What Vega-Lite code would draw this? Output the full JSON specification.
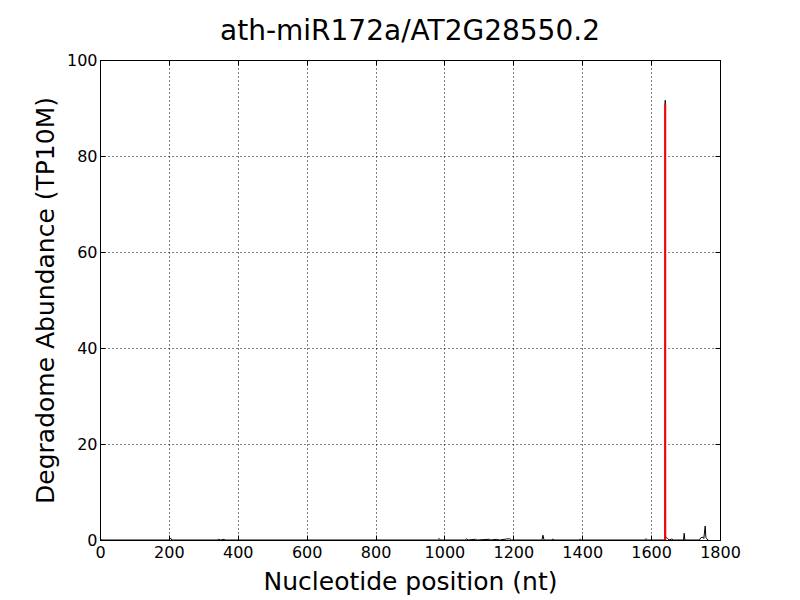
{
  "$schema": "https://vega.github.io/schema/vega-lite/v6.json",
  "width": 620,
  "height": 480,
  "autosize": {"type": "none"},
  "padding": {"left": 100, "top": 60, "right": 80, "bottom": 60},
  "background": "white",
  "title": {"text": "ath-miR172a/AT2G28550.2", "font": "DejaVu Sans", "fontSize": 28, "fontWeight": "normal", "color": "black", "offset": 6},
  "config": {
    "view": {"stroke": "black", "strokeWidth": 1},
    "axis": {
      "labelFont": "DejaVu Sans", "labelFontSize": 16, "labelColor": "black", "labelFlush": false,
      "titleFont": "DejaVu Sans", "titleFontSize": 25, "titleFontWeight": "normal", "titleColor": "black",
      "domainColor": "black", "tickColor": "black", "tickSize": -5, "labelPadding": 6,
      "grid": true, "gridColor": "black", "gridDash": [1, 3], "gridOpacity": 1, "gridWidth": 1
    }
  },
  "datasets": {
    "profile": [
      {"pos": 0, "val": 0.5}, {"pos": 4, "val": 0}, {"pos": 200, "val": 0}, {"pos": 205, "val": 0.4}, {"pos": 208, "val": 0},
      {"pos": 340, "val": 0}, {"pos": 345, "val": 0.15}, {"pos": 350, "val": 0}, {"pos": 360, "val": 0.15}, {"pos": 363, "val": 0},
      {"pos": 980, "val": 0}, {"pos": 985, "val": 0.3}, {"pos": 988, "val": 0}, {"pos": 1060, "val": 0}, {"pos": 1065, "val": 0.25},
      {"pos": 1068, "val": 0}, {"pos": 1090, "val": 0.15}, {"pos": 1095, "val": 0}, {"pos": 1130, "val": 0.15}, {"pos": 1135, "val": 0},
      {"pos": 1150, "val": 0.15}, {"pos": 1160, "val": 0}, {"pos": 1180, "val": 0.2}, {"pos": 1190, "val": 0.25}, {"pos": 1195, "val": 0},
      {"pos": 1283, "val": 0}, {"pos": 1286, "val": 1.0}, {"pos": 1289, "val": 0}, {"pos": 1310, "val": 0}, {"pos": 1315, "val": 0.2},
      {"pos": 1318, "val": 0}, {"pos": 1390, "val": 0}, {"pos": 1395, "val": 0.15}, {"pos": 1398, "val": 0}, {"pos": 1580, "val": 0},
      {"pos": 1585, "val": 0.25}, {"pos": 1590, "val": 0}, {"pos": 1638, "val": 0}, {"pos": 1640, "val": 0.3}, {"pos": 1641, "val": 91.6},
      {"pos": 1642, "val": 0.3}, {"pos": 1645, "val": 0.5}, {"pos": 1648, "val": 0.3}, {"pos": 1652, "val": 0}, {"pos": 1660, "val": 0.2},
      {"pos": 1665, "val": 0}, {"pos": 1694, "val": 0}, {"pos": 1696, "val": 1.4}, {"pos": 1698, "val": 0}, {"pos": 1740, "val": 0},
      {"pos": 1745, "val": 0.5}, {"pos": 1750, "val": 0.6}, {"pos": 1753, "val": 0.3}, {"pos": 1757, "val": 2.9}, {"pos": 1759, "val": 0.5},
      {"pos": 1762, "val": 0.3}, {"pos": 1765, "val": 0}
    ],
    "site": [{"pos": 1641, "val": 90.8}]
  },
  "layer": [
    {
      "data": {"name": "profile"},
      "mark": {"type": "line", "color": "black", "strokeWidth": 1, "interpolate": "linear"},
      "encoding": {
        "x": {"field": "pos", "type": "quantitative", "scale": {"domain": [0, 1800], "nice": false, "zero": false},
              "axis": {"title": "Nucleotide position (nt)", "values": [0,200,400,600,800,1000,1200,1400,1600,1800], "format": "d", "labelPadding": 9, "titlePadding": 9}},
        "y": {"field": "val", "type": "quantitative", "scale": {"domain": [0, 100], "nice": false},
              "axis": {"title": "Degradome Abundance (TP10M)", "values": [0,20,40,60,80,100], "format": "d", "labelPadding": 8, "titlePadding": 8}}
      }
    },
    {
      "data": {"name": "site"},
      "mark": {"type": "rule", "color": "#ff0000", "strokeWidth": 2},
      "encoding": {
        "x": {"field": "pos", "type": "quantitative", "scale": {"domain": [0, 1800], "nice": false, "zero": false},
              "axis": {"orient": "top", "labels": false, "title": null, "grid": false, "domain": false, "values": [0,200,400,600,800,1000,1200,1400,1600,1800]}},
        "y": {"field": "val", "type": "quantitative", "scale": {"domain": [0, 100], "nice": false},
              "axis": {"orient": "right", "labels": false, "title": null, "grid": false, "domain": false, "values": [0,20,40,60,80,100]}},
        "y2": {"datum": 0}
      }
    }
  ],
  "resolve": {"axis": {"x": "independent", "y": "independent"}}
}
